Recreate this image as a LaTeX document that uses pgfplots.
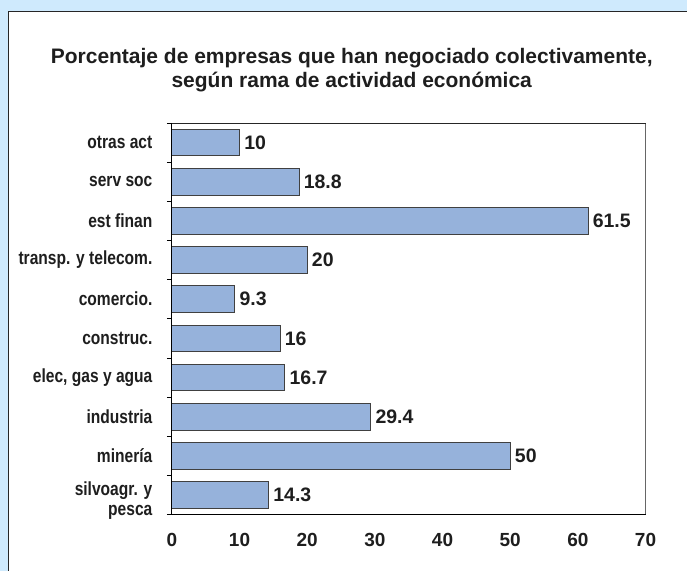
\documentclass[border=0pt]{standalone}
\usepackage{fontspec}
\setmainfont{Liberation Sans}
\newfontfamily\condfont{Liberation Sans}[FakeStretch=0.82]
\usepackage{pgfplots}
\pgfplotsset{compat=1.18}
\definecolor{bgblue}{RGB}{207,234,253}
\definecolor{barblue}{RGB}{150,178,219}
\definecolor{txt}{RGB}{30,30,30}
\begin{document}
\begin{tikzpicture}[x=1pt,y=1pt]
\fill[bgblue] (0,0) rectangle (687,-571);
\fill[white] (9,-12) rectangle (687,-571);
\draw[black!85, line width=1pt] (9,-571) -- (9,-12) -- (687,-12);
\node[align=center, text=txt, font=\fontsize{21}{24}\selectfont\bfseries] at (352,-70)
  {Porcentaje de empresas que han negociado colectivamente,\\según rama de actividad económica};
\begin{axis}[
  at={(172pt,-515pt)}, anchor=south west,
  scale only axis, width=474pt, height=392pt,
  xmin=0, xmax=70, ymin=-0.5, ymax=9.5,
  xtick={0,10,...,70},
  ytick={0,...,9},
  ytick pos=left, xtick pos=bottom,
  yticklabels={{\raisebox{-20pt}[0pt][0pt]{\shortstack[r]{silvoagr. y\\[2pt]pesca}}},minería,industria,{elec, gas y agua},construc.,comercio.,{transp. y telecom.},est finan,serv soc,otras act},
  extra y ticks={-0.5,0.5,...,9.5},
  extra y tick labels={},
  extra y tick style={major tick length=5pt, tick style={black, line width=0.8pt}},
  major tick length=0pt,
  xtick style={draw=none},
  extra x ticks={0,10,...,70},
  extra x tick labels={},
  extra x tick style={major tick length=5pt, tick style={black, line width=0.8pt}, tick align=outside},
  tick align=outside,
  axis line style={draw=none},
  xticklabel style={font=\fontsize{19}{21}\selectfont\bfseries, text=txt, yshift=-15pt},
  yticklabel style={font=\condfont\fontsize{19}{19}\selectfont\bfseries, text=txt, align=right, xshift=-16pt},
  /pgf/number format/assume math mode=true,
  clip=false,
]
\draw[gray!80!black, line width=0.8pt] (axis cs:70,-0.5) -- (axis cs:70,9.5);
\draw[black!85, line width=0.8pt] (axis cs:70,9.5) -- (axis cs:0,9.5);
\addplot[xbar, bar width=0.68, fill=barblue, draw=black!75, line width=0.8pt,
  nodes near coords,
  nodes near coords style={font=\fontsize{19.5}{21}\selectfont\bfseries, text=txt, anchor=west, xshift=1pt, /pgf/number format/assume math mode=true}]
  coordinates {(14.3,0) (50,1) (29.4,2) (16.7,3) (16,4) (9.3,5) (20,6) (61.5,7) (18.8,8) (10,9)};
\draw[black, line width=1pt] (axis cs:0,9.5) -- (axis cs:0,-0.5) -- (axis cs:70,-0.5);
\end{axis}
\end{tikzpicture}
\end{document}
